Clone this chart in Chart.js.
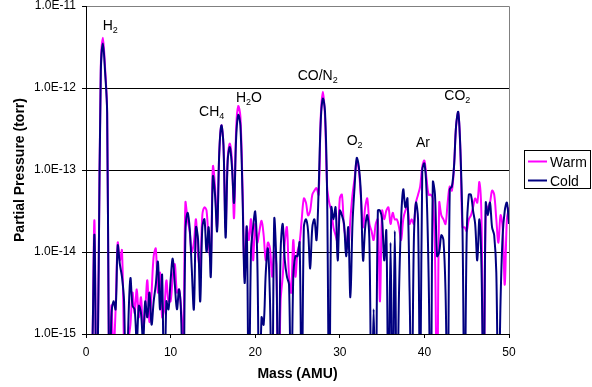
<!DOCTYPE html>
<html><head><meta charset="utf-8">
<style>html,body{margin:0;padding:0;background:#fff;}canvas{display:block;}</style>
<script src="https://cdn.jsdelivr.net/npm/chart.js@4/dist/chart.umd.min.js"></script>
</head><body>
<canvas id="c" width="592" height="387"></canvas>
<script>
const MASS = [
0,0.25,0.5,0.75,1,1.25,1.5,1.75,2,2.25,2.5,2.75,3,3.25,3.5,3.75,4,4.25,4.5,4.75,
5,5.25,5.5,5.75,6,6.25,6.5,6.75,7,7.25,7.5,7.75,8,8.25,8.5,8.75,9,9.25,9.5,9.75,
10,10.25,10.5,10.75,11,11.25,11.5,11.75,12,12.25,12.5,12.75,13,13.25,13.5,13.75,14,14.25,14.5,14.75,
15,15.25,15.5,15.75,16,16.25,16.5,16.75,17,17.25,17.5,17.75,18,18.25,18.5,18.75,19,19.25,19.5,19.75,
20,20.25,20.5,20.75,21,21.25,21.5,21.75,22,22.25,22.5,22.75,23,23.25,23.5,23.75,24,24.25,24.5,24.75,
25,25.25,25.5,25.75,26,26.25,26.5,26.75,27,27.25,27.5,27.75,28,28.25,28.5,28.75,29,29.25,29.5,29.75,
30,30.25,30.5,30.75,31,31.25,31.5,31.75,32,32.25,32.5,32.75,33,33.25,33.5,33.75,34,34.25,34.5,34.75,
35,35.25,35.5,35.75,36,36.25,36.5,36.75,37,37.25,37.5,37.75,38,38.25,38.5,38.75,39,39.25,39.5,39.75,
40,40.25,40.5,40.75,41,41.25,41.5,41.75,42,42.25,42.5,42.75,43,43.25,43.5,43.75,44,44.25,44.5,44.75,
45,45.25,45.5,45.75,46,46.25,46.5,46.75,47,47.25,47.5,47.75,48,48.25,48.5,48.75,49,49.25,49.5,49.75,
50];

const WARM = [
1e-16,1e-16,1e-16,6.3e-16,
2.4e-14,1e-16,6.3e-15,1.8e-12,
4.1e-12,1.8e-12,5.0e-13,1e-16,
2.2e-15,6.3e-16,2.0e-15,1.3e-14,
7.9e-15,1.05e-14,6.3e-16,1e-16,
7.9e-16,1.3e-15,3.2e-15,1.8e-15,
3.5e-15,1.6e-15,2.8e-15,1.1e-15,
2.0e-15,4.5e-15,1.4e-15,3.2e-15,
8.9e-15,1.1e-14,3.2e-15,5.6e-15,
1.6e-15,2.0e-15,4.5e-15,2.5e-15,
2.5e-15,5.0e-15,7.1e-15,3.2e-15,
3.5e-15,2.0e-15,7.9e-16,4.0e-14,
2.5e-14,1.8e-14,1.0e-14,1.3e-14,
2.5e-14,8.9e-15,6.3e-15,2.8e-14,
3.5e-14,3.2e-14,1.3e-14,7.9e-15,
1.1e-13,6.3e-14,2.0e-14,1.6e-13,
3.5e-13,2.0e-13,2.0e-14,1.4e-13,
2.1e-13,1.3e-13,2.6e-14,3.2e-13,
6.0e-13,4.5e-13,6.3e-14,5.0e-15,
2.0e-14,1.4e-14,2.5e-14,7.9e-15,
2.2e-14,1.3e-14,1.8e-14,2.4e-14,
1.6e-14,7.9e-15,1.3e-14,1.1e-14,
5.0e-15,1.0e-14,7.1e-15,1e-16,
2.5e-15,5.0e-15,1.3e-14,2.0e-14,
5.0e-15,3.2e-15,1.4e-14,5.0e-15,
1.0e-14,1.3e-14,2.5e-14,4.5e-14,
4.0e-14,2.8e-14,3.2e-14,5.0e-14,
5.6e-14,6.0e-14,5.0e-14,4.5e-13,
9.0e-13,4.5e-13,6.3e-14,4.0e-14,
3.2e-14,2.0e-14,1.6e-14,1.3e-14,
4.5e-14,5.0e-14,2.0e-14,1.4e-14,
1.1e-14,2.5e-14,5.0e-14,7.9e-14,
1.3e-13,1.0e-13,4.5e-14,2.0e-14,
3.5e-14,4.5e-14,2.2e-14,1.8e-14,
1.4e-14,2.2e-14,2.5e-14,2.5e-15,
3.2e-14,2.5e-14,3.2e-14,3.5e-14,
2.2e-14,3.0e-14,2.5e-14,2.5e-14,
2.0e-14,1.4e-14,2.5e-14,3.2e-14,
3.5e-14,2.2e-14,2.5e-14,2.2e-14,
4.0e-14,5.0e-14,6.3e-14,1.1e-13,
1.3e-13,7.9e-14,5.0e-14,5.0e-14,
4.5e-14,1.0e-14,1e-16,4.0e-14,
2.8e-14,2.5e-14,2.2e-14,4.0e-14,
6.3e-14,5.6e-14,1.1e-13,3.5e-13,
5.0e-13,1.8e-13,2.0e-14,2.0e-14,
1.8e-14,2.5e-14,2.8e-14,3.5e-14,
4.5e-14,4.0e-14,7.1e-14,2.5e-14,
1e-16,3.2e-14,3.5e-14,4.0e-14,
5.6e-14,5.0e-14,2.5e-14,1.3e-14,
2.8e-14,2.0e-14,4.0e-15,2.5e-14,
3.5e-14];

const COLD = [
1e-16,1e-16,1e-16,6.3e-16,
1.6e-14,1e-16,6.3e-15,1.6e-12,
3.5e-12,1.6e-12,5.0e-13,1e-16,
1.6e-15,2.5e-15,2.0e-15,1.2e-14,
7.1e-15,5.0e-15,2.5e-15,1e-16,
1.3e-15,4.8e-15,2.2e-15,2.0e-15,
7.9e-16,2.2e-15,1.8e-15,7.9e-16,
2.5e-15,1.6e-15,3.2e-15,1.3e-15,
2.5e-15,4.0e-15,7.6e-15,2.0e-15,
5.2e-15,1e-16,2.5e-15,2.0e-15,
4.5e-15,8.3e-15,4.0e-15,2.0e-15,
3.5e-15,1.6e-15,1e-16,1.6e-14,
3.0e-14,2.0e-14,6.3e-15,2.0e-15,
2.0e-14,1.4e-14,2.5e-15,2.0e-14,
2.5e-14,1.0e-14,2.0e-14,5.0e-15,
8.3e-14,5.0e-14,1.8e-14,1.6e-13,
3.5e-13,2.0e-13,1.5e-14,1.3e-13,
1.9e-13,1.1e-13,4.0e-14,2.5e-13,
4.7e-13,3.5e-13,5.0e-14,4.2e-15,
2.0e-14,1e-16,1.0e-14,2.0e-14,
3.1e-14,7.9e-15,1e-16,1.6e-15,
1.3e-15,5.6e-15,1.1e-14,2.5e-15,
1e-16,2.5e-14,7.1e-15,1e-16,
1.0e-14,2.2e-14,7.9e-15,5.0e-15,
4.0e-15,1e-16,5.0e-15,8.9e-15,
8.9e-15,1.3e-14,1e-16,2.0e-14,
2.5e-14,1.8e-14,6.3e-15,2.0e-14,
2.5e-14,1.4e-14,5.8e-14,4.0e-13,
7.4e-13,5.2e-13,5.0e-14,1e-16,
3.5e-14,2.5e-14,3.5e-14,7.9e-15,
3.2e-14,2.8e-14,2.2e-14,8.9e-15,
2.0e-14,2.8e-15,2.2e-14,6.3e-14,
1.4e-13,1.1e-13,5.0e-14,7.9e-15,
2.0e-14,2.8e-14,1.3e-14,1e-16,
2.0e-15,1e-16,3.2e-14,3.2e-14,
2.5e-14,7.9e-15,1.8e-14,1e-16,
1.3e-14,1e-16,1.8e-14,1e-16,
3.2e-15,2.5e-14,5.8e-14,3.5e-14,
4.5e-14,3.2e-15,1e-16,1.3e-14,
4.0e-14,2.5e-14,1e-16,1.0e-13,
1.2e-13,5.6e-14,5.0e-15,1e-16,
7.1e-14,5.0e-14,8.9e-15,1.0e-14,
1.6e-14,1.4e-14,3.2e-15,1e-16,
5.8e-14,6.3e-14,1.1e-13,3.5e-13,
5.1e-13,1.8e-13,2.0e-14,1e-16,
1.6e-14,5.0e-14,5.0e-14,3.2e-14,
2.2e-14,7.9e-15,2.5e-14,6.3e-15,
1e-16,4.0e-14,2.8e-14,4.0e-14,
2.0e-14,1.6e-14,5.6e-15,1e-16,
2.5e-15,1.6e-14,3.2e-14,4.0e-14,
2.2e-14];

const SERIES_NAMES = ['Warm', 'Cold'];
const SERIES_COLORS = ['#FF00FF', '#000080'];
const Y_TICKS = [1e-15, 1e-14, 1e-13, 1e-12, 1e-11];
const Y_TICK_LABELS = ['1.0E-15', '1.0E-14', '1.0E-13', '1.0E-12', '1.0E-11'];
const X_TICKS = [0, 10, 20, 30, 40, 50];
const X_TITLE = 'Mass (AMU)';
const Y_TITLE = 'Partial Pressure (torr)';

// peak labels: text pieces [text, isSubscript], anchored at (mass, pressure) = left baseline
const PEAK_LABELS = [
  [['H',0],['2',1]],
  [['CH',0],['4',1]],
  [['H',0],['2',1],['O',0]],
  [['CO/N',0],['2',1]],
  [['O',0],['2',1]],
  [['Ar',0]],
  [['CO',0],['2',1]]
];
const PEAK_MASS  = [1.97, 13.37, 17.73, 25.02, 30.81, 39.0, 42.35];
const PEAK_VALUE = [5.1e-12, 4.6e-13, 6.8e-13, 1.26e-12, 2.0e-13, 1.9e-13, 7.2e-13];

const FONT = "'Liberation Sans', Arial, Helvetica, sans-serif";
Chart.defaults.font.family = FONT;
Chart.defaults.color = '#000';

const decor = {
  id: 'decor',
  afterDatasetsDraw(chart) {
    const {ctx, scales: {x, y}} = chart;
    ctx.save();
    ctx.fillStyle = '#000';
    ctx.textBaseline = 'alphabetic';
    ctx.textAlign = 'left';
    PEAK_LABELS.forEach((parts, i) => {
      let px = x.getPixelForValue(PEAK_MASS[i]);
      const py = y.getPixelForValue(PEAK_VALUE[i]);
      parts.forEach(([t, sub]) => {
        ctx.font = (sub ? '9px ' : '14px ') + FONT;
        ctx.fillText(t, px, py + (sub ? 3 : 0));
        px += ctx.measureText(t).width;
      });
    });
    ctx.restore();
  },
  afterDraw(chart) {
    const {ctx, chartArea: ca} = chart;
    ctx.save();
    ctx.strokeStyle = '#808080';
    ctx.lineWidth = 1;
    ctx.beginPath();
    const t = Math.round(ca.top) + 0.5, r = Math.round(ca.right) + 0.5;
    ctx.moveTo(Math.round(ca.left) + 1, t);
    ctx.lineTo(r, t);
    ctx.lineTo(r, Math.round(ca.bottom));
    ctx.stroke();
    // legend
    ctx.strokeStyle = '#000';
    ctx.strokeRect(524.5, 150.5, 66, 38);
    SERIES_NAMES.forEach((n, i) => {
      const yy = 161.5 + i * 19;
      ctx.strokeStyle = SERIES_COLORS[i];
      ctx.lineWidth = 2;
      ctx.beginPath();
      ctx.moveTo(528, yy);
      ctx.lineTo(547, yy);
      ctx.stroke();
      ctx.fillStyle = '#000';
      ctx.font = '14px ' + FONT;
      ctx.textBaseline = 'alphabetic';
      ctx.textAlign = 'left';
      ctx.fillText(n, 550, yy + 5);
    });
    ctx.restore();
  }
};

function series(vals) { return MASS.map((m, i) => ({x: m, y: vals[i]})); }

new Chart(document.getElementById('c'), {
  type: 'line',
  data: {
    datasets: [
      {label: SERIES_NAMES[0], data: series(WARM), borderColor: SERIES_COLORS[0], borderWidth: 2,
       pointRadius: 0, tension: 0.35, order: 1, clip: 0, fill: false},
      {label: SERIES_NAMES[1], data: series(COLD), borderColor: SERIES_COLORS[1], borderWidth: 2,
       pointRadius: 0, tension: 0.35, order: 0, clip: 0, fill: false}
    ]
  },
  options: {
    responsive: false,
    animation: false,
    events: [],
    layout: {padding: {top: 6, right: 83, left: 0, bottom: 0}},
    elements: {line: {capBezierPoints: false}},
    plugins: {legend: {display: false}, tooltip: {enabled: false}},
    scales: {
      x: {
        type: 'linear', min: 0, max: 50,
        afterBuildTicks: s => { s.ticks = X_TICKS.map(v => ({value: v})); },
        ticks: {font: {size: 12}, padding: 7, maxRotation: 0, autoSkip: false, callback: v => String(v)},
        grid: {drawOnChartArea: false, drawTicks: true, tickLength: 4, color: '#000'},
        border: {color: '#000', width: 1},
        title: {display: true, text: X_TITLE, font: {size: 14, weight: 'bold'}, padding: {top: 0, bottom: 4}},
        afterFit: s => { s.height = 53; s.paddingLeft = 0; s.paddingRight = 0; }
      },
      y: {
        type: 'logarithmic', min: 1e-15, max: 1e-11,
        afterBuildTicks: s => { s.ticks = Y_TICKS.map(v => ({value: v})); },
        ticks: {font: {size: 12, lineHeight: 1}, padding: 6, autoSkip: false,
                callback: (v, i) => Y_TICK_LABELS[i]},
        grid: {color: '#000', tickLength: 4, drawTicks: true},
        border: {color: '#000', width: 1},
        title: {display: true, text: Y_TITLE, font: {size: 14, weight: 'bold'}, padding: {top: 11.6, bottom: 0}},
        afterFit: s => { s.width = 86; s.paddingTop = 0; s.paddingBottom = 0; }
      }
    }
  },
  plugins: [decor]
});
</script>
</body></html>
